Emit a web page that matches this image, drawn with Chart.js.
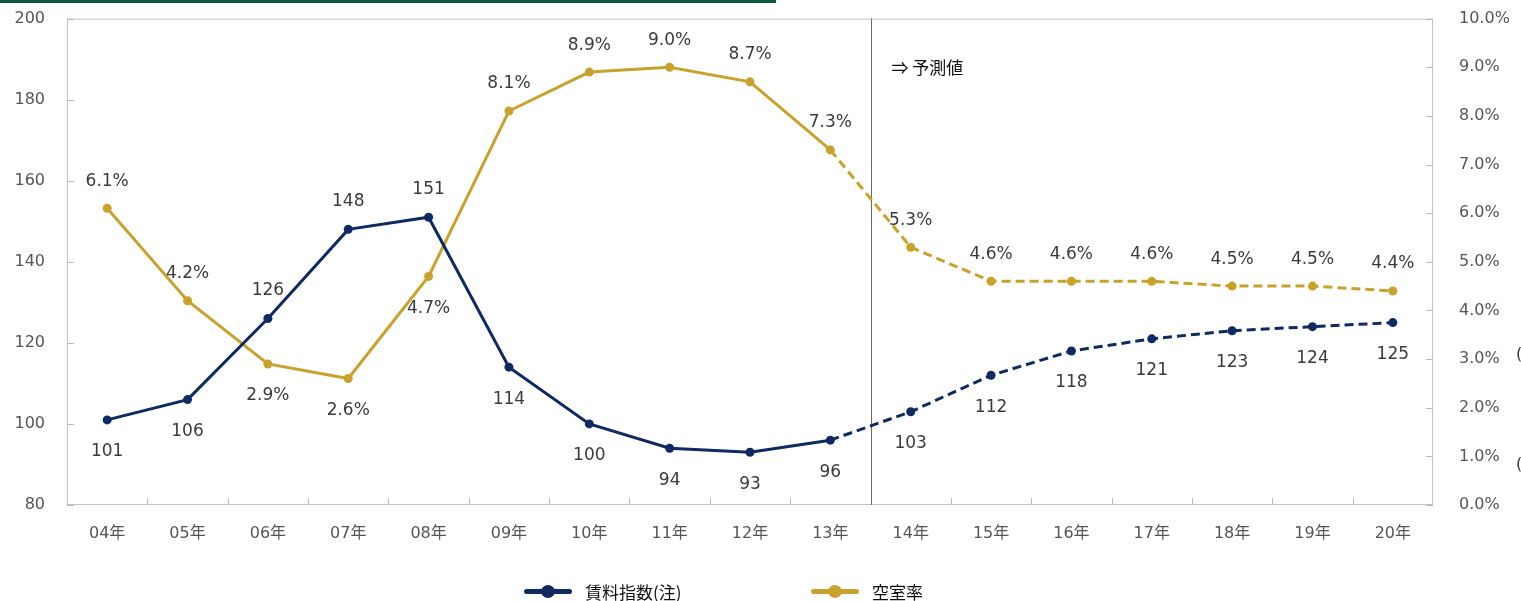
<!DOCTYPE html>
<html>
<head>
<meta charset="utf-8">
<script src="https://cdn.jsdelivr.net/npm/chart.js@4.4.0/dist/chart.umd.min.js"></script>
<style>
    body { margin: 0; background: #fff; }
    #wrap { position: relative; width: 1521px; height: 601px; overflow: hidden; }
    /* canvas is shifted up so the plot top lands where the tick padding would push it down */
    #chart { position: absolute; left: 0; top: -9px; }
    .topbar { position: absolute; left: 0; top: 0; width: 776px; height: 3px; background: #0b5a3a; }
    .legend { position: absolute; top: 578px; font-family: "Noto Sans CJK JP", sans-serif; font-size: 17px; color: #111; display: flex; align-items: center; height: 26px; }
    .legend .mark { position: relative; width: 48px; height: 26px; margin-right: 13px; }
    .legend .mark .ln { position: absolute; left: 0; right: 0; top: 11px; height: 5px; border-radius: 3px; }
    .legend .mark .dot { position: absolute; left: 17px; top: 7px; width: 14px; height: 13px; border-radius: 50%; }
    .cut { position: absolute; left: 1516px; font-family: "DejaVu Sans", sans-serif; font-size: 16px; color: #333; }
</style>
</head>
<body>
<div id="wrap">
    <canvas id="chart" width="1521" height="610"></canvas>
    <div class="topbar"></div>
    <div class="legend" style="left:524px">
        <div class="mark"><div class="ln" style="background:#0f2a62"></div><div class="dot" style="background:#0f2a62"></div></div>
        <span>賃料指数(注)</span>
    </div>
    <div class="legend" style="left:811px">
        <div class="mark"><div class="ln" style="background:#c9a22c"></div><div class="dot" style="background:#c9a22c"></div></div>
        <span>空室率</span>
    </div>
    <span class="cut" style="top:344px">(</span>
    <span class="cut" style="top:454px">(</span>
</div>
<script>
// Chart data
const years = ['04年', '05年', '06年', '07年', '08年', '09年', '10年', '11年', '12年', '13年',
               '14年', '15年', '16年', '17年', '18年', '19年', '20年'];
const rentIndex = [101, 106, 126, 148, 151, 114, 100, 94, 93, 96, 103, 112, 118, 121, 123, 124, 125];
const vacancyRate = [6.1, 4.2, 2.9, 2.6, 4.7, 8.1, 8.9, 9.0, 8.7, 7.3, 5.3, 4.6, 4.6, 4.6, 4.5, 4.5, 4.4];
const forecastFrom = 9;            // lines turn dashed after 13年
const rentLabelsAbove = [2, 3, 4];  // 126, 148, 151
const vacancyLabelsBelow = [2, 3, 4];
const forecastNote = '⇒ 予測値';

const NAVY = '#0f2a62';
const GOLD = '#c9a22c';
const tickFont = { family: '"DejaVu Sans", "Noto Sans CJK JP"', size: 16 };

// Box, inner ticks, forecast divider and value labels
const decorPlugin = {
    id: 'decor',
    beforeDatasetsDraw(chart) {
        const { ctx, chartArea: a, scales } = chart;
        ctx.save();
        ctx.strokeStyle = '#c4c4c4';
        ctx.lineWidth = 1;
        ctx.strokeRect(a.left + 0.5, a.top + 0.5, a.width - 1, a.height - 1);

        ctx.strokeStyle = '#b8b8b8';
        ctx.beginPath();
        scales.y.ticks.forEach(t => {
            const y = Math.round(scales.y.getPixelForValue(t.value)) + 0.5;
            ctx.moveTo(a.left, y); ctx.lineTo(a.left + 7, y);
        });
        scales.y1.ticks.forEach(t => {
            const y = Math.round(scales.y1.getPixelForValue(t.value)) + 0.5;
            ctx.moveTo(a.right - 7, y); ctx.lineTo(a.right, y);
        });
        const step = a.width / years.length;
        for (let i = 1; i < years.length; i++) {
            const x = Math.round(a.left + step * i) + 0.5;
            ctx.moveTo(x, a.bottom); ctx.lineTo(x, a.bottom - 7);
        }
        ctx.stroke();

        // forecast divider
        const xd = Math.round((scales.x.getPixelForValue(forecastFrom) + scales.x.getPixelForValue(forecastFrom + 1)) / 2) + 0.5;
        ctx.strokeStyle = '#6a6a6a';
        ctx.beginPath();
        ctx.moveTo(xd, a.top); ctx.lineTo(xd, a.bottom);
        ctx.stroke();
        ctx.fillStyle = '#111';
        ctx.font = '17px "Noto Sans CJK JP"';
        ctx.textBaseline = 'middle';
        ctx.fillText(forecastNote, xd + 20, a.top + 49);
        ctx.restore();
    },
    afterDatasetsDraw(chart) {
        const { ctx } = chart;
        ctx.save();
        ctx.font = '17px "DejaVu Sans"';
        ctx.fillStyle = '#3a3a3a';
        ctx.textAlign = 'center';
        ctx.textBaseline = 'middle';
        chart.getDatasetMeta(0).data.forEach((p, i) => {
            const dy = rentLabelsAbove.includes(i) ? -28 : 32;
            ctx.fillText(String(rentIndex[i]), p.x, p.y + dy);
        });
        chart.getDatasetMeta(1).data.forEach((p, i) => {
            const dy = vacancyLabelsBelow.includes(i) ? 32 : -27;
            ctx.fillText(vacancyRate[i].toFixed(1) + '%', p.x, p.y + dy);
        });
        ctx.restore();
    }
};

const dashAfterForecast = c => c.p0DataIndex >= forecastFrom ? [9, 5] : undefined;

const ctx = document.getElementById('chart').getContext('2d');
new Chart(ctx, {
    type: 'line',
    data: {
        labels: years,
        datasets: [{
            label: '賃料指数(注)',
            data: rentIndex,
            yAxisID: 'y',
            borderColor: NAVY,
            backgroundColor: NAVY,
            borderWidth: 3,
            pointRadius: 4.5,
            pointBorderWidth: 0,
            tension: 0,
            segment: { borderDash: dashAfterForecast }
        }, {
            label: '空室率',
            data: vacancyRate,
            yAxisID: 'y1',
            borderColor: GOLD,
            backgroundColor: GOLD,
            borderWidth: 3,
            pointRadius: 4.5,
            pointBorderWidth: 0,
            tension: 0,
            segment: { borderDash: dashAfterForecast }
        }]
    },
    options: {
        responsive: false,
        animation: false,
        events: [],
        plugins: {
            legend: { display: false },
            tooltip: { enabled: false }
        },
        scales: {
            x: {
                offset: true,
                grid: { display: false },
                border: { display: false },
                ticks: { font: tickFont, color: '#555', padding: 11, maxRotation: 0 },
                afterFit: s => { s.height = 96; }
            },
            y: {
                position: 'left',
                min: 80, max: 200,
                ticks: { stepSize: 20, font: tickFont, color: '#555', padding: 14 },
                grid: { display: false },
                border: { display: false },
                afterFit: s => { s.width = 67; }
            },
            y1: {
                position: 'right',
                min: 0, max: 10,
                ticks: { stepSize: 1, font: tickFont, color: '#555', padding: 18,
                         callback: v => v.toFixed(1) + '%' },
                grid: { display: false },
                border: { display: false },
                afterFit: s => { s.width = 88; }
            }
        }
    },
    plugins: [decorPlugin]
});
</script>
</body>
</html>
